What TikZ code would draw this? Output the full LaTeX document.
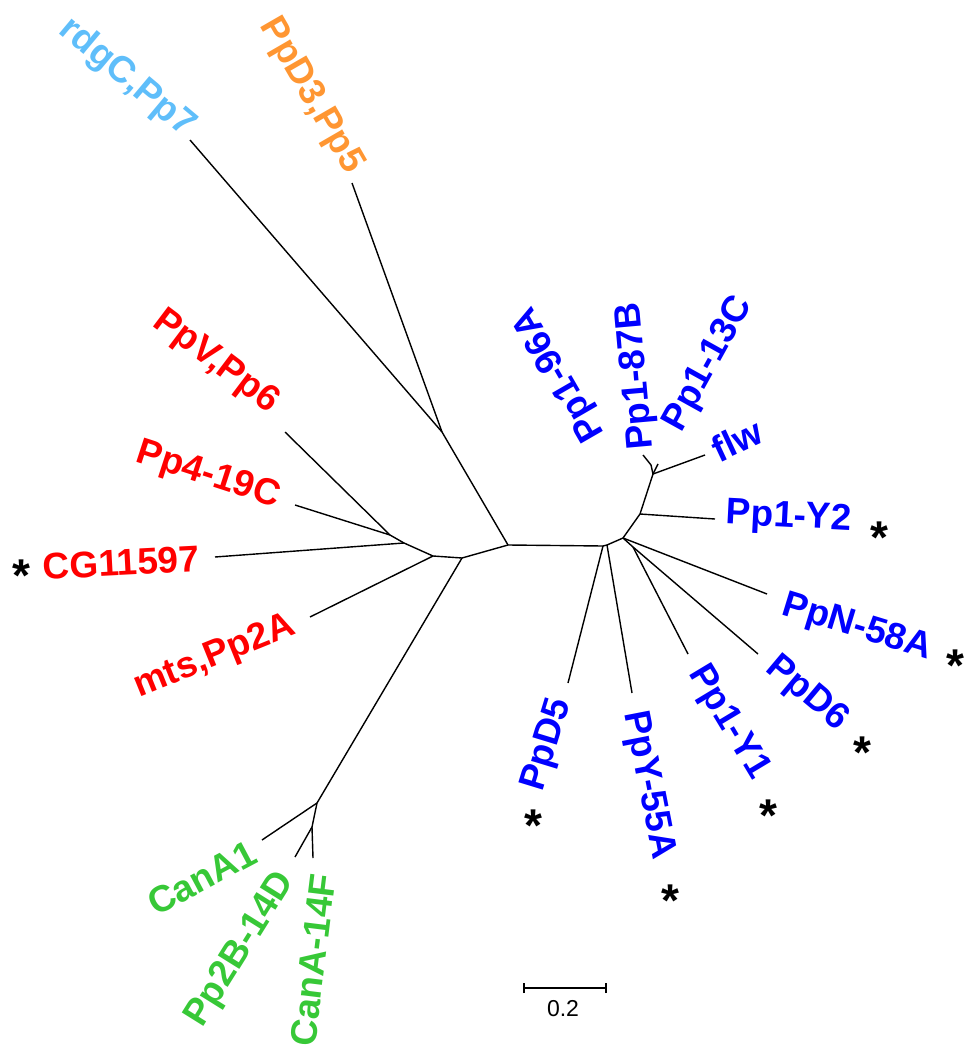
\documentclass[tikz,border=0pt]{standalone}
\usepackage{fontspec}
\setmainfont{Liberation Sans}
\definecolor{lblue}{RGB}{95,190,250}
\definecolor{orng}{RGB}{255,150,50}
\definecolor{rd}{RGB}{255,0,0}
\definecolor{bl}{RGB}{0,0,255}
\definecolor{gr}{RGB}{55,200,55}
\tikzset{
  br/.style={line width=1.4pt, black},
  lbl/.style={font=\bfseries\fontsize{37}{40}\selectfont, inner sep=0pt},
  ast/.style={font=\bfseries\fontsize{46}{48}\selectfont, inner sep=0pt, black},
}
\begin{document}
\begin{tikzpicture}[x=1pt,y=-1pt]
\useasboundingbox (0,0) rectangle (964,1048);
% internal nodes
\coordinate (A) at (508,545);
\coordinate (B) at (603,546);
\coordinate (B2) at (607,545);
\coordinate (C) at (442,432);
\coordinate (D) at (462,558);
\coordinate (E) at (433,556);
\coordinate (F) at (404,543);
\coordinate (G) at (390,535);
\coordinate (H) at (317,803);
\coordinate (I) at (312,827);
\coordinate (J) at (623,538);
\coordinate (P) at (633,547);
\coordinate (K) at (640,514);
\coordinate (L) at (653,474);
\coordinate (N) at (651,465);
% tips
\coordinate (t1) at (190,140);
\coordinate (t2) at (352,183);
\coordinate (t3) at (285,432);
\coordinate (t4) at (295,505);
\coordinate (t5) at (215,557);
\coordinate (t6) at (310,617);
\coordinate (t7) at (262,840);
\coordinate (t8) at (295,857);
\coordinate (t9) at (313,858);
\coordinate (t10) at (568,683);
\coordinate (t11) at (632,693);
\coordinate (t12) at (688,654);
\coordinate (t13) at (758,654);
\coordinate (t14) at (767,594);
\coordinate (t15) at (715,519);
\coordinate (t16) at (705,455);
\coordinate (t17) at (658,464);
\coordinate (t18) at (643,455);
% branches
\draw[br] (A) -- (B);
\draw[br] (A) -- (C);
\draw[br] (C) -- (t1);
\draw[br] (C) -- (t2);
\draw[br] (A) -- (D);
\draw[br] (D) -- (E);
\draw[br] (E) -- (F);
\draw[br] (F) -- (G);
\draw[br] (G) -- (t3);
\draw[br] (G) -- (t4);
\draw[br] (F) -- (t5);
\draw[br] (E) -- (t6);
\draw[br] (D) -- (H);
\draw[br] (H) -- (t7);
\draw[br] (H) -- (I);
\draw[br] (I) -- (t8);
\draw[br] (I) -- (t9);
\draw[br] (B) -- (t10);
\draw[br] (B) -- (B2);
\draw[br] (B2) -- (t11);
\draw[br] (B2) -- (J);
\draw[br] (J) -- (P);
\draw[br] (P) -- (t12);
\draw[br] (P) -- (t13);
\draw[br] (J) -- (t14);
\draw[br] (J) -- (K);
\draw[br] (K) -- (t15);
\draw[br] (K) -- (L);
\draw[br] (L) -- (t16);
\draw[br] (L) -- (t17);
\draw[br] (L) -- (N);
\draw[br] (N) -- (t18);
% labels
\node[lbl, text=lblue, rotate=-40] (l1) at (127,78) {rdgC,Pp7};
\node[lbl, text=orng, rotate=-60] (l2) at (311,96) {PpD3,Pp5};
\node[lbl, text=rd, rotate=-37] (l3) at (216,362) {PpV,Pp6};
\node[lbl, text=rd, rotate=-18] (l4) at (208,476) {Pp4-19C};
\node[lbl, text=rd, rotate=3] (l5) at (121,563) {CG11597};
\node[lbl, text=rd, rotate=22] (l6) at (215,657) {mts,Pp2A};
\node[lbl, text=gr, rotate=28] (l7) at (202,878) {CanA1};
\node[lbl, text=gr, rotate=58] (l8) at (241,950) {Pp2B-14D};
\node[lbl, text=gr, rotate=83] (l9) at (313,960) {CanA-14F};
\node[lbl, text=bl, rotate=73] (l10) at (548,745) {PpD5};
\node[lbl, text=bl, rotate=-79] (l11) at (648,785) {PpY-55A};
\node[lbl, text=bl, rotate=-59] (l12) at (728,723) {Pp1-Y1};
\node[lbl, text=bl, rotate=-40] (l13) at (807,694) {PpD6};
\node[lbl, text=bl, rotate=-17] (l14) at (857,628) {PpN-58A};
\node[lbl, text=bl, rotate=-3] (l15) at (789,518) {Pp1-Y2};
\node[lbl, text=bl, rotate=25] (l16) at (737,440) {flw};
\node[lbl, text=bl, rotate=61] (l17) at (709,364) {Pp1-13C};
\node[lbl, text=bl, rotate=95] (l18) at (637,376) {Pp1-87B};
\node[lbl, text=bl, rotate=120] (l19) at (560,374) {Pp1-96A};
% asterisks
\node[ast] (a1) at (21,576) {*};
\node[ast] (a2) at (879,538) {*};
\node[ast] (a3) at (955,666) {*};
\node[ast] (a4) at (862,753) {*};
\node[ast] (a5) at (768,816) {*};
\node[ast] (a6) at (670,901) {*};
\node[ast] (a7) at (533,826) {*};
% scale bar
\coordinate (s1) at (524,988);
\coordinate (s2) at (606,988);
\draw[line width=2pt] (s1) -- (s2);
\draw[line width=2pt] ([yshift=-5pt]s1) -- ([yshift=5pt]s1);
\draw[line width=2pt] ([yshift=-5pt]s2) -- ([yshift=5pt]s2);
\node[font=\fontsize{23}{25}\selectfont, inner sep=0pt] (sl) at (563,1009) {0.2};
\end{tikzpicture}
\end{document}
